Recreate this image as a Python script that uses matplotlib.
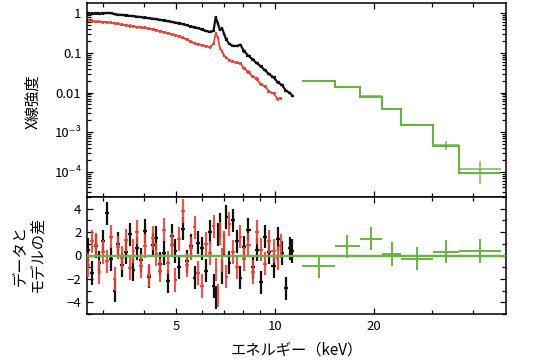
import numpy as np
import matplotlib
matplotlib.use("Agg")
import matplotlib.pyplot as plt
from matplotlib.ticker import FixedLocator, FixedFormatter, NullFormatter, LogLocator

plt.rcParams['font.family'] = ['Noto Sans CJK JP', 'DejaVu Sans']
plt.rcParams['axes.unicode_minus'] = True

# --- low energy spectrum (black) ---
energy_b = [2.70, 2.77, 2.85, 2.92, 3.00, 3.08, 3.17, 3.25, 3.34, 3.43,
            3.52, 3.62, 3.71, 3.81, 3.92, 4.02, 4.13, 4.24, 4.36, 4.48,
            4.60, 4.72, 4.85, 4.98, 5.11, 5.25, 5.39, 5.54, 5.69, 5.84,
            6.00, 6.16, 6.33, 6.50, 6.60, 6.70, 6.80, 6.90, 7.00, 7.10,
            7.25, 7.45, 7.65, 7.85, 8.05, 8.30, 8.55, 8.80, 9.05, 9.30,
            9.60, 9.90, 10.2, 10.5, 10.8, 11.1, 11.3]
flux_b = [1.00, 0.98, 0.99, 0.98, 1.00, 1.02, 1.01, 0.95, 0.92, 0.91,
          0.88, 0.86, 0.85, 0.82, 0.80, 0.78, 0.75, 0.73, 0.71, 0.68,
          0.66, 0.63, 0.61, 0.58, 0.56, 0.53, 0.50, 0.46, 0.44, 0.42,
          0.39, 0.36, 0.34, 0.36, 0.80, 0.55, 0.38, 0.42, 0.30, 0.22,
          0.17, 0.15, 0.15, 0.16, 0.11, 0.085, 0.068, 0.055, 0.046, 0.037,
          0.029, 0.024, 0.018, 0.0155, 0.011, 0.0098, 0.0082]
resid_b = [0.5, -1.5, 0.8, -0.6, 1.2, 3.6, -0.3, -3.0, 1.0, -0.8,
           0.3, 1.8, -1.2, 0.6, -0.4, 2.1, -1.8, 0.9, 1.5, -0.7,
           0.2, -2.2, 1.7, 0.4, -1.0, 2.3, -0.5, 0.8, -1.9, 1.1,
           0.6, -1.3, 2.0, -2.6, -3.6, 1.8, 2.6, -1.4, 0.9, 3.3,
           -0.6, 3.0, 1.2, -1.9, 0.7, 2.2, -1.0, 0.5, -2.3, 1.6,
           0.3, -0.9, 1.4, 0.2, -2.8, 0.6, 0.4]

# --- second detector (red) ---
energy_r = [2.70, 2.77, 2.85, 2.92, 3.00, 3.08, 3.17, 3.25, 3.34, 3.43,
            3.52, 3.62, 3.71, 3.81, 3.92, 4.02, 4.13, 4.24, 4.36, 4.48,
            4.60, 4.72, 4.85, 4.98, 5.11, 5.25, 5.39, 5.54, 5.69, 5.84,
            6.00, 6.16, 6.33, 6.50, 6.60, 6.70, 6.80, 6.90, 7.00, 7.10,
            7.25, 7.45, 7.65, 7.85, 8.05, 8.30, 8.55, 8.80, 9.05, 9.30,
            9.60, 9.90, 10.2, 10.4]
flux_r = [0.66, 0.64, 0.62, 0.61, 0.60, 0.59, 0.58, 0.56, 0.55, 0.52,
          0.50, 0.48, 0.47, 0.45, 0.44, 0.43, 0.41, 0.39, 0.37, 0.35,
          0.33, 0.31, 0.30, 0.28, 0.26, 0.24, 0.22, 0.19, 0.175, 0.165,
          0.155, 0.148, 0.14, 0.17, 0.31, 0.24, 0.13, 0.11, 0.085, 0.075,
          0.066, 0.060, 0.057, 0.055, 0.041, 0.033, 0.025, 0.022, 0.016, 0.0145,
          0.0105, 0.0095, 0.0068, 0.0072]
resid_r = [-0.8, 1.2, 0.9, -1.4, 0.3, -0.5, 1.6, -2.0, 0.7, -0.2,
           1.3, -1.1, 0.4, 2.0, -0.9, 0.8, -1.7, 1.5, 0.1, -1.3,
           2.2, -0.6, 0.9, -2.1, 1.4, 3.8, -0.8, 0.6, 2.4, -1.5,
           -2.6, 1.0, 0.2, 2.5, -1.2, -3.4, 1.9, -0.4, 1.1, -1.8,
           2.7, 0.3, -1.0, 1.6, -0.3, 0.9, -1.4, 2.0, 0.5, -0.7,
           1.2, 0.4, -0.2, 0.8]

# --- hard X-ray bins (green) ---
green_edges = [12.1, 15.2, 18.1, 21.2, 24.2, 30.3, 36.3, 48.5]
green_rate = [0.020, 0.0139, 0.0082, 0.0039, 0.0015, 4.6e-4, 1.18e-4]
green_err_lo = [0.0007, 0.0005, 0.0003, 0.00015, 0.00006, 0.0001, 0.68e-4]
green_err_hi = [0.0007, 0.0005, 0.0003, 0.00015, 0.00006, 0.00012, 0.65e-4]
green_model = [0.020, 0.0139, 0.0076, 0.0039, 0.0015, 4.4e-4, 9.1e-5]
green_resid = [-0.94, 0.77, 1.43, 0.12, -0.26, 0.32, 0.37]

BLACK = '#111111'
RED = '#e2463b'
GREEN = '#69b345'


def half_widths(e):
    e = np.asarray(e)
    mid = np.sqrt(e[1:] * e[:-1])
    lo = np.concatenate([[e[0] - (mid[0] - e[0])], mid])
    hi = np.concatenate([mid, [e[-1] + (e[-1] - mid[-1])]])
    return np.vstack([e - lo, hi - e])


fig = plt.figure(figsize=(5.46, 3.6), dpi=100)
ax1 = fig.add_axes([87 / 546, 1 - 197 / 360, 419 / 546, 194 / 360])
ax2 = fig.add_axes([87 / 546, 1 - 314 / 360, 419 / 546, 117 / 360], sharex=ax1)

# top panel
eb, er = np.array(energy_b), np.array(energy_r)
ax1.errorbar(eb, flux_b, xerr=half_widths(eb), yerr=np.array(flux_b) * 0.07,
             fmt='none', ecolor=BLACK, elinewidth=1.6)
ax1.plot(eb, flux_b, color=BLACK, lw=1.6)
ax1.errorbar(er, flux_r, xerr=half_widths(er), yerr=np.array(flux_r) * 0.09,
             fmt='none', ecolor=RED, elinewidth=1.3)
ax1.plot(er, flux_r, color=RED, lw=1.3)

ge = np.array(green_edges)
gc = np.sqrt(ge[1:] * ge[:-1])
gx = np.vstack([gc - ge[:-1], ge[1:] - gc])
ax1.stairs(green_model, ge, baseline=None, color=GREEN, lw=1.5)
ax1.errorbar(gc, green_rate, xerr=gx, yerr=[green_err_lo, green_err_hi],
             fmt='none', ecolor=GREEN, elinewidth=1.2, alpha=0.85)

ax1.set_xscale('log')
ax1.set_yscale('log')
ax1.set_xlim(2.68, 50.4)
ax1.set_ylim(2.3e-5, 1.82)
ax1.yaxis.set_major_locator(FixedLocator([1, 0.1, 0.01, 1e-3, 1e-4]))
ax1.yaxis.set_major_formatter(FixedFormatter(['1', '0.1', '0.01', '10⁻³', '10⁻⁴']))
ax1.yaxis.set_minor_locator(LogLocator(base=10, subs=np.arange(2, 10)))
ax1.yaxis.set_minor_formatter(NullFormatter())

# bottom panel
ax2.axhline(0, color=GREEN, lw=1.6, zorder=1)
ax2.errorbar(eb, resid_b, xerr=half_widths(eb), yerr=1.0, fmt='none',
             ecolor=BLACK, elinewidth=1.6, zorder=2)
ax2.errorbar(er, resid_r, xerr=half_widths(er), yerr=1.0, fmt='none',
             ecolor=RED, elinewidth=1.6, alpha=0.9, zorder=3)
ax2.axhline(0, color=GREEN, lw=1.6, zorder=4)
ax2.errorbar(gc, green_resid, xerr=gx, yerr=1.0, fmt='none',
             ecolor=GREEN, elinewidth=1.4, zorder=4)
ax2.set_ylim(-5, 5)
ax2.yaxis.set_major_locator(FixedLocator([-4, -2, 0, 2, 4]))
ax2.yaxis.set_minor_locator(FixedLocator([-5, -3, -1, 1, 3, 5]))

ax2.xaxis.set_major_locator(FixedLocator([5, 10, 20]))
ax2.xaxis.set_major_formatter(FixedFormatter(['5', '10', '20']))
ax2.xaxis.set_minor_locator(FixedLocator([3, 4, 6, 7, 8, 9, 30, 40]))
ax2.xaxis.set_minor_formatter(NullFormatter())
plt.setp(ax1.get_xticklabels(which='both'), visible=False)

for ax in (ax1, ax2):
    for s in ax.spines.values():
        s.set_linewidth(1.1)
    ax.tick_params(which='both', direction='in', top=True, right=True,
                   labelsize=9.5, width=0.9, pad=4)
    ax.tick_params(which='major', length=4.5)
    ax.tick_params(which='minor', length=2.8)

fig.text(33 / 546, 1 - 102 / 360, 'X線強度', rotation=90, ha='center',
         va='center', fontsize=11)
fig.text(28 / 546, 1 - 255 / 360, 'データと\nモデルの差', rotation=90,
         ha='center', va='center', fontsize=11, linespacing=1.1)
fig.text(297 / 546, 1 - 350 / 360, 'エネルギー（keV）', ha='center',
         va='center', fontsize=11)

fig.savefig('out.png', dpi=100)
